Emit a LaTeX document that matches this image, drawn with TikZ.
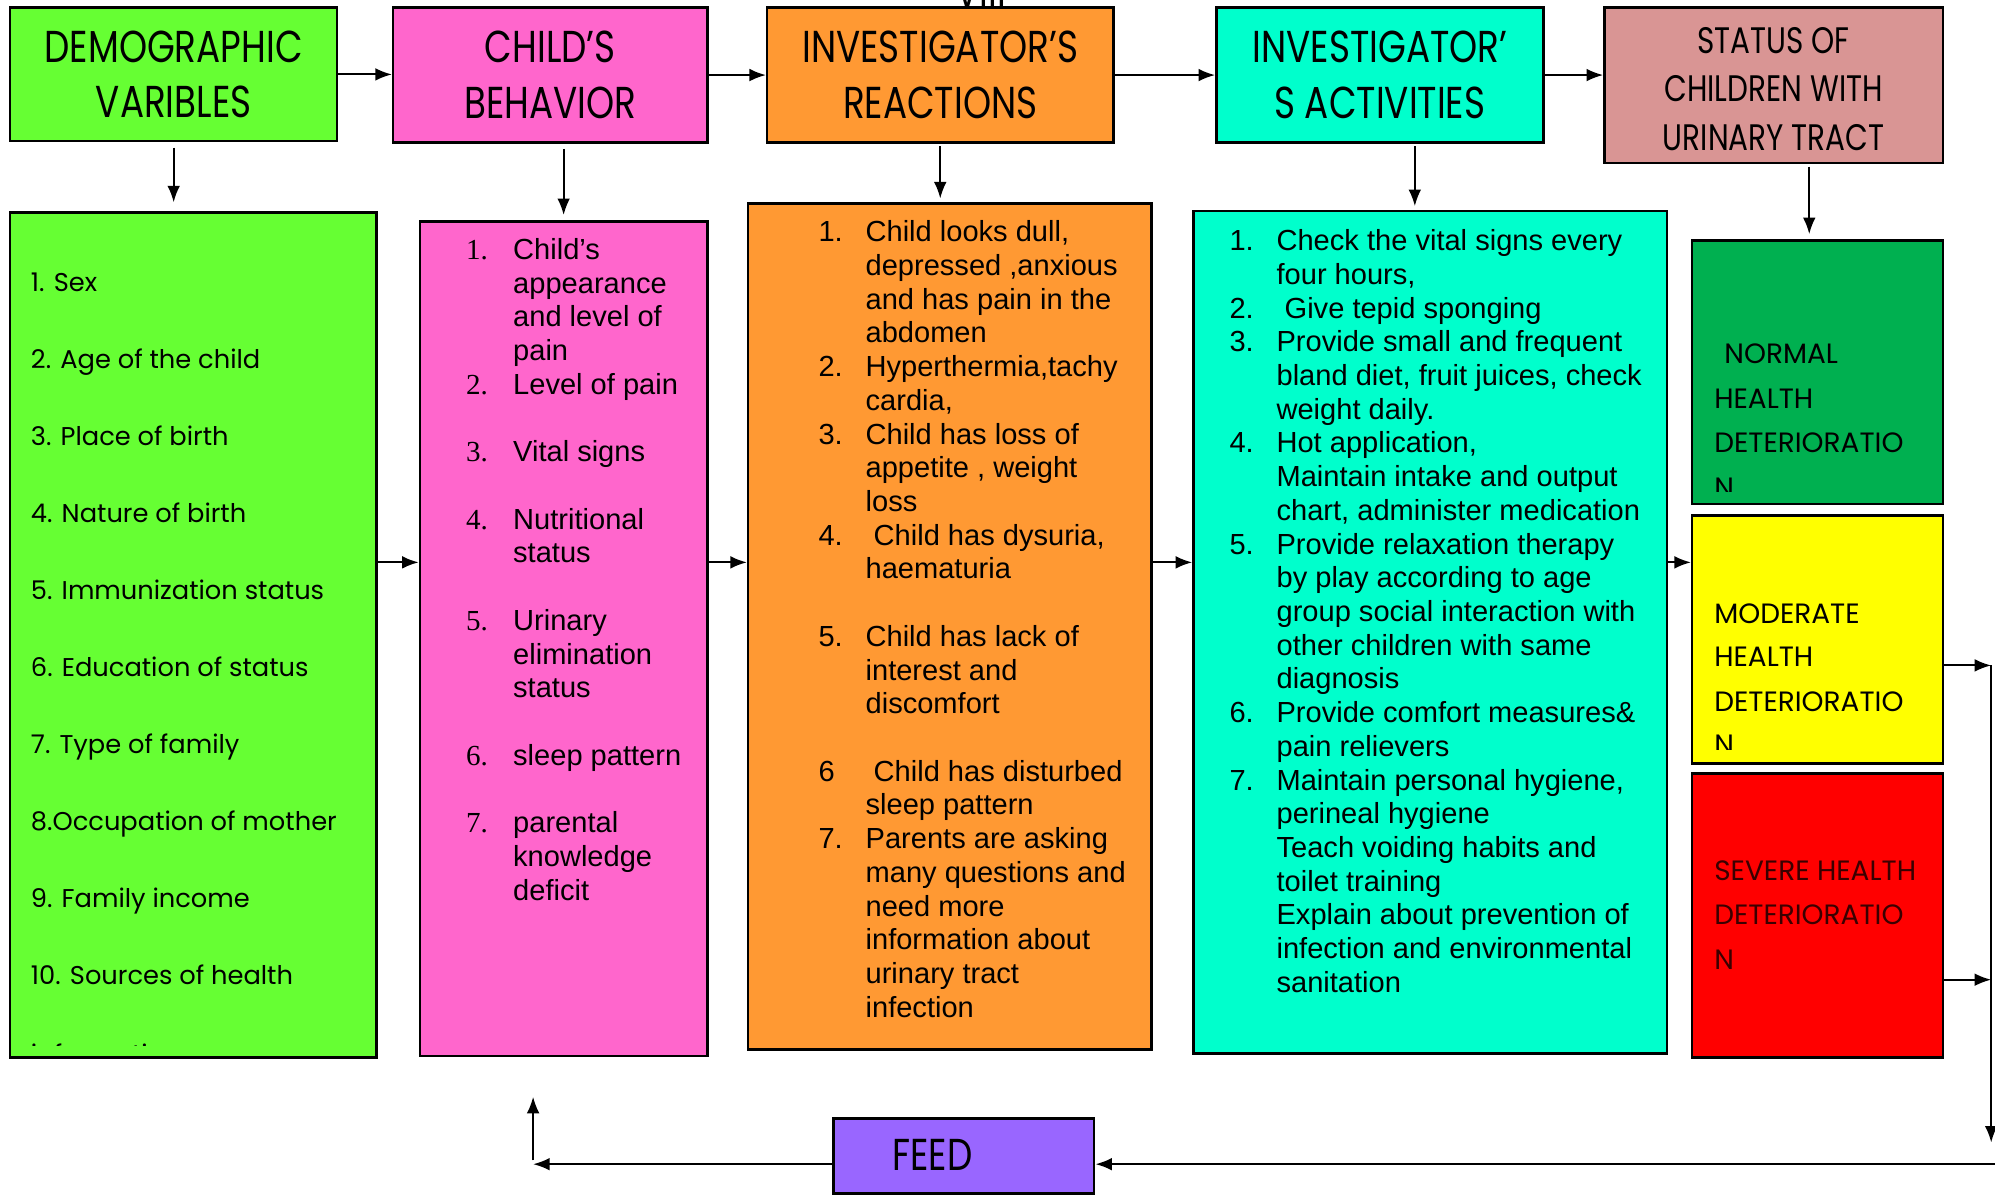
\documentclass[tikz,border=0pt]{standalone}
\usepackage{fontspec}
\setmainfont{Liberation Sans}
\newfontfamily\gothic{Poppins}
\newfontfamily\gothicnarrow[FakeStretch=0.8]{Poppins}
\newfontfamily\timesnum{Liberation Serif}
\usetikzlibrary{arrows.meta, calc}
\definecolor{demogcol}{HTML}{66FF33}
\definecolor{behavcol}{HTML}{FF66CC}
\definecolor{reactcol}{HTML}{FF9933}
\definecolor{activcol}{HTML}{00FFCC}
\definecolor{statuscol}{HTML}{D99594}
\definecolor{normalcol}{HTML}{00B050}
\definecolor{modercol}{HTML}{FFFF00}
\definecolor{severecol}{HTML}{FF0000}
\definecolor{feedcol}{HTML}{9966FF}
\definecolor{severetxt}{HTML}{3A0000}
\tikzset{
  hbox/.style={rectangle, draw, line width=1.1pt, inner sep=0pt, align=center, font=\gothicnarrow\fontsize{20}{25}\selectfont},
  lbox/.style={rectangle, draw, line width=1.1pt, inner sep=0pt},
  ltext/.style={anchor=base west, inner sep=0pt, font=\fontsize{13}{15}\selectfont},
  gtext/.style={anchor=base west, inner sep=0pt, font=\gothic\fontsize{11.5}{14}\selectfont},
  stext/.style={anchor=base west, inner sep=0pt, font=\gothic\fontsize{12.5}{15}\selectfont},
  arr/.style={-{Latex[length=2.6mm,width=2mm]}, line width=0.9pt},
}

\begin{document}
\begin{tikzpicture}[x=0.2mm, y=-0.2mm]
  \useasboundingbox (0,0) rectangle (1568,940);
  \node[anchor=base, inner sep=0pt, font=\gothicnarrow\fontsize{20}{25}\selectfont] (topmark) at (771,6) {VIII};

  % top row
  \node[hbox, fill=demogcol, minimum width=51.4mm, minimum height=21mm] (demog) at (136.5,58.5) {DEMOGRAPHIC\\VARIBLES};
  \node[hbox, fill=behavcol, minimum width=49.4mm, minimum height=21.2mm] (behav) at (432.5,59) {CHILD’S\\BEHAVIOR};
  \node[hbox, fill=reactcol, minimum width=54.4mm, minimum height=21.2mm] (react) at (739,59) {INVESTIGATOR’S\\REACTIONS};
  \node[hbox, fill=activcol, minimum width=51.4mm, minimum height=21.2mm] (activ) at (1084.5,59) {INVESTIGATOR’\\S ACTIVITIES};
  \node[lbox, fill=statuscol, minimum width=53.2mm, minimum height=24.4mm] (status) at (1394,67) {};
  \node[inner sep=0pt, align=center, font=\gothicnarrow\fontsize{16.5}{21.5}\selectfont] (statuslbl) at (1394,70) {STATUS OF\\CHILDREN WITH\\URINARY TRACT};

  % list boxes
  \node[lbox, fill=demogcol, minimum width=57.6mm, minimum height=132.8mm] (demoglist) at (152,499) {};
  \node[lbox, fill=behavcol, minimum width=45.2mm, minimum height=131.2mm] (behavlist) at (443,502) {};
  \node[lbox, fill=reactcol, minimum width=63.4mm, minimum height=133mm] (reactlist) at (746.5,492.5) {};
  \node[lbox, fill=activcol, minimum width=74.4mm, minimum height=132.4mm] (activlist) at (1124,497) {};
  \node[lbox, fill=normalcol, minimum width=39.4mm, minimum height=41.4mm] (normal) at (1428.5,292.5) {};
  \node[lbox, fill=modercol, minimum width=39.4mm, minimum height=39mm] (moderate) at (1428.5,502.5) {};
  \node[lbox, fill=severecol, minimum width=39.4mm, minimum height=44.6mm] (severe) at (1428.5,719.5) {};
  \node[hbox, fill=feedcol, minimum width=41mm, minimum height=11.8mm] (feed) at (757.5,908.5) {};
  \node[inner sep=0pt, font=\gothicnarrow\fontsize{20}{25}\selectfont] (feedlbl) at (733,908) {FEED};

  % demographic variables
  \foreach \k/\t in {0/{1. Sex}, 1/{2. Age of the child}, 2/{3. Place of birth}, 3/{4. Nature of birth},
      4/{5. Immunization status}, 5/{6. Education of status}, 6/{7. Type of family},
      7/{8.Occupation of mother}, 8/{9. Family income}, 9/{10. Sources of health}}
    \node[gtext] (dline\k) at (24,{229+60.5*\k}) {\t};
  \begin{scope}
    \clip (8,167) rectangle (296,822);
    \node[gtext] (dline10) at (24,836) {information};
  \end{scope}

  % child's behavior
  \foreach \k/\n/\t in {0/1./{Child’s}, 1//appearance, 2//{and level of}, 3//pain, 4/2./{Level of pain},
      6/3./{Vital signs}, 8/4./Nutritional, 9//status, 11/5./Urinary, 12//elimination, 13//status,
      15/6./{sleep pattern}, 17/7./parental, 18//knowledge, 19//deficit}
    \node[ltext] (bline\k) at (366,{204+26.5*\k}) {\makebox[7.4mm][l]{\timesnum\n}\t};

  % investigator's reactions
  \foreach \k/\n/\t in {0/1./{Child looks dull,}, 1//{depressed ,anxious}, 2//{and has pain in the}, 3//abdomen,
      4/2./{Hyperthermia,tachy}, 5//{cardia,}, 6/3./{Child has loss of}, 7//{appetite , weight}, 8//loss,
      9/4./{\ Child has dysuria,}, 10//haematuria, 12/5./{Child has lack of}, 13//{interest and},
      14//discomfort, 16/6/{\ Child has disturbed}, 17//{sleep pattern}, 18/7./{Parents are asking},
      19//{many questions and}, 20//{need more}, 21//{information about}, 22//{urinary tract}, 23//infection}
    \node[ltext] (rline\k) at (643,{190+26.5*\k}) {\makebox[7.4mm][l]{\n}\t};

  % investigator's activities
  \foreach \k/\n/\t in {0/1./{Check the vital signs every}, 1//{four hours,}, 2/2./{\ Give tepid sponging},
      3/3./{Provide small and frequent}, 4//{bland diet, fruit juices, check}, 5//{weight daily.},
      6/4./{Hot application,}, 7//{Maintain intake and output}, 8//{chart, administer medication},
      9/5./{Provide relaxation therapy}, 10//{by play according to age}, 11//{group social interaction with},
      12//{other children with same}, 13//diagnosis, 14/6./{Provide comfort measures\&}, 15//{pain relievers},
      16/7./{Maintain personal hygiene,}, 17//{perineal hygiene}, 18//{Teach voiding habits and},
      19//{toilet training}, 20//{Explain about prevention of}, 21//{infection and environmental}, 22//sanitation}
    \node[ltext] (aline\k) at (966,{197+26.5*\k}) {\makebox[7.4mm][l]{\n}\t};

  % status boxes
  \begin{scope}
    \clip (1330,189) rectangle (1527,386);
    \foreach \k/\x/\y/\t in {0/1355/286/NORMAL, 1/1347/321/HEALTH, 2/1347/356/DETERIORATIO, 3/1347/391/N}
      \node[stext] (nline\k) at (\x,\y) {\t};
  \end{scope}
  \begin{scope}
    \clip (1330,405) rectangle (1527,589);
    \foreach \k/\y/\t in {0/490/MODERATE, 1/524/HEALTH, 2/559/DETERIORATIO, 3/593/N}
      \node[stext] (mline\k) at (1347,\y) {\t};
  \end{scope}
  \foreach \k/\y/\t in {0/692/{SEVERE HEALTH}, 1/727/DETERIORATIO, 2/762/N}
    \node[stext, text=severetxt] (sline\k) at (1347,\y) {\t};

  % connectors, top row
  \draw[arr] (demog.east) -- (demog.east -| behav.west);
  \draw[arr] (behav.east) -- (behav.east -| react.west);
  \draw[arr] (react.east) -- (react.east -| activ.west);
  \draw[arr] (activ.east) -- (activ.east -| status.west);
  \draw[arr, shorten <=0.8mm, shorten >=1.4mm] (demog.south) -- (demog.south |- demoglist.north);
  \draw[arr, shorten <=0.8mm, shorten >=0.8mm] (behav.south -| behavlist.north) -- (behavlist.north);
  \draw[arr, shorten <=0.4mm, shorten >=0.6mm] (react.south) -- (react.south |- reactlist.north);
  \draw[arr, shorten <=0.4mm, shorten >=0.6mm] ($(activ.south)+(27.5,0)$) -- ($(activ.south |- activlist.north)+(27.5,0)$);
  \draw[arr, shorten <=0.4mm, shorten >=0.8mm] ($(status.south -| normal.north)+(-6.5,0)$) -- ($(normal.north)+(-6.5,0)$);

  % connectors, middle row
  \coordinate (midrow) at (0,442);
  \draw[arr] (demoglist.east |- midrow) -- (behavlist.west |- midrow);
  \draw[arr] (behavlist.east |- midrow) -- (reactlist.west |- midrow);
  \draw[arr] (reactlist.east |- midrow) -- (activlist.west |- midrow);
  \draw[arr] (activlist.east |- midrow) -- (moderate.west |- midrow);

  % feedback loop
  \coordinate (railtop) at (1565,523);
  \coordinate (railmid) at (1565,770);
  \coordinate (railend) at (1565,898);
  \coordinate (loopright) at (1580,915);
  \coordinate (loopleft) at (419,915);
  \coordinate (loopfoot) at (419,912);
  \coordinate (looptop) at (419,862);
  \draw[arr] (moderate.east |- railtop) -- (railtop);
  \draw[arr] (severe.east |- railmid) -- (railmid);
  \draw[arr] (railtop) -- (railend);
  \draw[arr] (loopright) -- (feed.east |- loopright);
  \draw[arr] (feed.west |- loopright) -- (loopleft);
  \draw[arr] (loopfoot) -- (looptop);
\end{tikzpicture}
\end{document}
